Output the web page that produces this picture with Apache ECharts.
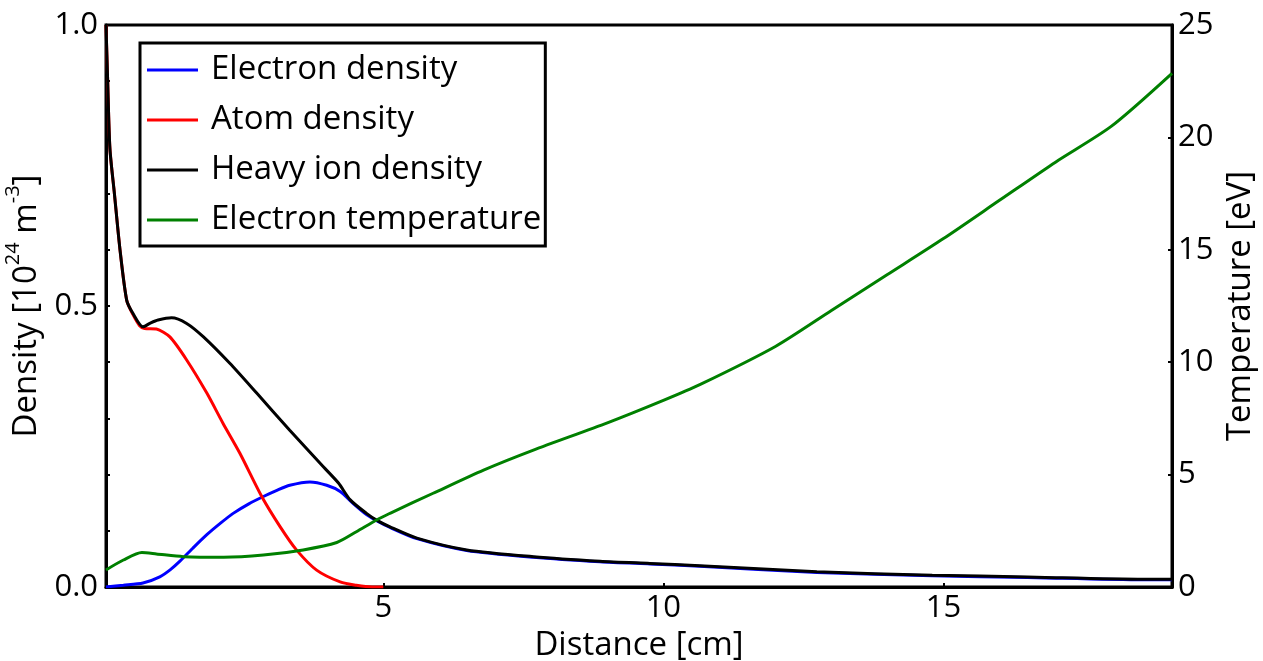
<!DOCTYPE html>
<html>
<head>
<meta charset="utf-8">
<script src="https://cdn.jsdelivr.net/npm/echarts@6/dist/echarts.min.js"></script>
<style>
html,body{margin:0;padding:0;background:#fff;}
#chart{width:1263px;height:661px;}
</style>
</head>
<body>
<div id="chart"></div>
<script>
// ---- data ----
const seriesNames = ['Electron density', 'Atom density', 'Heavy ion density', 'Electron temperature'];

const elD = [0.05,0.36,0.71,1.01,1.2,1.37,1.6,1.85,2.1,2.32,2.6,2.86,3.1,3.33,3.69,3.99,4.23,4.46,4.7,4.88,5.12,5.6,6.49,7.68,8.87,9.76,10.65,12.74,14.8,16.5,18.57,19.08];
const elV = [0.0,0.003,0.007,0.018,0.031,0.046,0.069,0.093,0.114,0.131,0.148,0.161,0.172,0.181,0.187,0.181,0.170,0.149,0.129,0.118,0.106,0.086,0.065,0.053,0.045,0.041,0.037,0.026,0.020,0.017,0.013,0.013];

const atomD = [0.05,0.08,0.12,0.2,0.3,0.42,0.53,0.65,0.74,0.95,1.19,1.49,1.85,2.14,2.44,2.83,3.16,3.45,3.81,4.23,4.52,4.8,5.0];
const atomV = [1.0,0.9,0.78,0.70,0.60,0.51,0.485,0.465,0.460,0.459,0.445,0.404,0.345,0.291,0.238,0.161,0.107,0.066,0.030,0.009,0.003,0.0,0.0];

const ionD = [0.05,0.08,0.12,0.2,0.3,0.42,0.53,0.71,0.85,0.98,1.22,1.49,1.79,2.26,2.74,3.33,3.93,4.2,4.41,4.7,4.88,5.12,5.6,6.49,7.68,8.87,9.76,10.65,12.74,14.8,16.5,18.57,19.08];
const ionV = [1.0,0.9,0.78,0.70,0.60,0.51,0.487,0.463,0.470,0.475,0.479,0.469,0.445,0.398,0.345,0.279,0.214,0.185,0.155,0.131,0.119,0.107,0.087,0.066,0.054,0.046,0.042,0.038,0.027,0.021,0.018,0.014,0.014];

const tD = [0.05,0.36,0.69,0.95,1.43,2.15,2.86,3.57,4.17,4.52,4.88,5.12,5.89,6.79,7.68,9,10,10.65,12,13,14,15,16,17,18,19.08];
const tV = [0.76,1.20,1.53,1.47,1.35,1.32,1.42,1.65,1.98,2.46,2.98,3.28,4.17,5.20,6.09,7.3,8.3,9.0,10.7,12.3,13.9,15.5,17.2,18.9,20.5,22.85];

const xTicks = [5, 10, 15];

const pairs = (xs, ys) => xs.map((x, i) => [x, ys[i]]);

const FONT = '"Open Sans", sans-serif';
const chart = echarts.init(document.getElementById('chart'), null, {renderer: 'canvas'});

const lineSeries = (name, color, data, yIdx) => ({
  name, type: 'line', yAxisIndex: yIdx, data,
  showSymbol: false, smooth: 0.25,
  lineStyle: {color, width: 3}, itemStyle: {color},
  emphasis: {disabled: true}, animation: false
});

chart.setOption({
  animation: false,
  textStyle: {fontFamily: FONT},
  grid: {left: 106, right: 91, top: 25, bottom: 74, outerBoundsMode: 'none', containLabel: false,
         show: true, borderColor: '#000', borderWidth: 3, backgroundColor: 'transparent'},
  legend: {
    orient: 'vertical', left: 140, top: 43,
    data: seriesNames,
    icon: 'rect', itemWidth: 51, itemHeight: 3, itemGap: 10,
    borderColor: '#000', borderWidth: 3, backgroundColor: '#fff',
    padding: [7, 4, 6, 7],
    textStyle: {fontFamily: FONT, fontSize: 33, color: '#000', lineHeight: 40, width: 330, padding: [0, 0, 0, 8]},
    selectedMode: false
  },
  xAxis: {
    type: 'value', min: 0.05, max: 19.08,
    name: 'Distance [cm]', nameLocation: 'middle', nameGap: 35,
    nameTextStyle: {fontFamily: FONT, fontSize: 33, color: '#000'},
    axisLine: {show: true, onZero: false, lineStyle: {color: '#000', width: 3}},
    axisTick: {show: true, inside: true, length: 4, lineStyle: {color: '#000', width: 2}, customValues: xTicks},
    axisLabel: {fontFamily: FONT, fontSize: 31, color: '#000', margin: 6, customValues: xTicks},
    splitLine: {show: false}
  },
  yAxis: [{
    type: 'value', min: 0, max: 1, interval: 0.1, position: 'left',
    name: '{a|Density [10}{s|24}{a| m}{s|-3}{a|]}', nameLocation: 'middle', nameGap: 60, nameRotate: 90,
    nameTextStyle: {
      color: '#000',
      rich: {
        a: {fontFamily: FONT, fontSize: 33, color: '#000', lineHeight: 40, verticalAlign: 'bottom'},
        s: {fontFamily: FONT, fontSize: 20, color: '#000', lineHeight: 40, verticalAlign: 'top', padding: [0, 0, 14, 0]}
      }
    },
    axisLine: {show: true, onZero: false, lineStyle: {color: '#000', width: 3}},
    axisTick: {show: true, inside: true, length: 4, lineStyle: {color: '#000', width: 2}},
    axisLabel: {
      fontFamily: FONT, fontSize: 31, color: '#000', margin: 8,
      formatter: v => (Math.round(v * 10) % 5 === 0 ? v.toFixed(1) : '')
    },
    splitLine: {show: false}
  }, {
    type: 'value', min: 0, max: 25, interval: 5, position: 'right',
    name: 'Temperature [eV]', nameLocation: 'middle', nameGap: 50, nameRotate: 90,
    nameTextStyle: {fontFamily: FONT, fontSize: 33, color: '#000'},
    axisLine: {show: true, onZero: false, lineStyle: {color: '#000', width: 3}},
    axisTick: {show: true, inside: true, length: 4, lineStyle: {color: '#000', width: 2}},
    axisLabel: {fontFamily: FONT, fontSize: 31, color: '#000', margin: 6},
    splitLine: {show: false}
  }],
  series: [
    lineSeries(seriesNames[0], '#0000ff', pairs(elD, elV), 0),
    lineSeries(seriesNames[1], '#ff0000', pairs(atomD, atomV), 0),
    lineSeries(seriesNames[2], '#000000', pairs(ionD, ionV), 0),
    lineSeries(seriesNames[3], '#008000', pairs(tD, tV), 1)
  ]
});
</script>
</body>
</html>
